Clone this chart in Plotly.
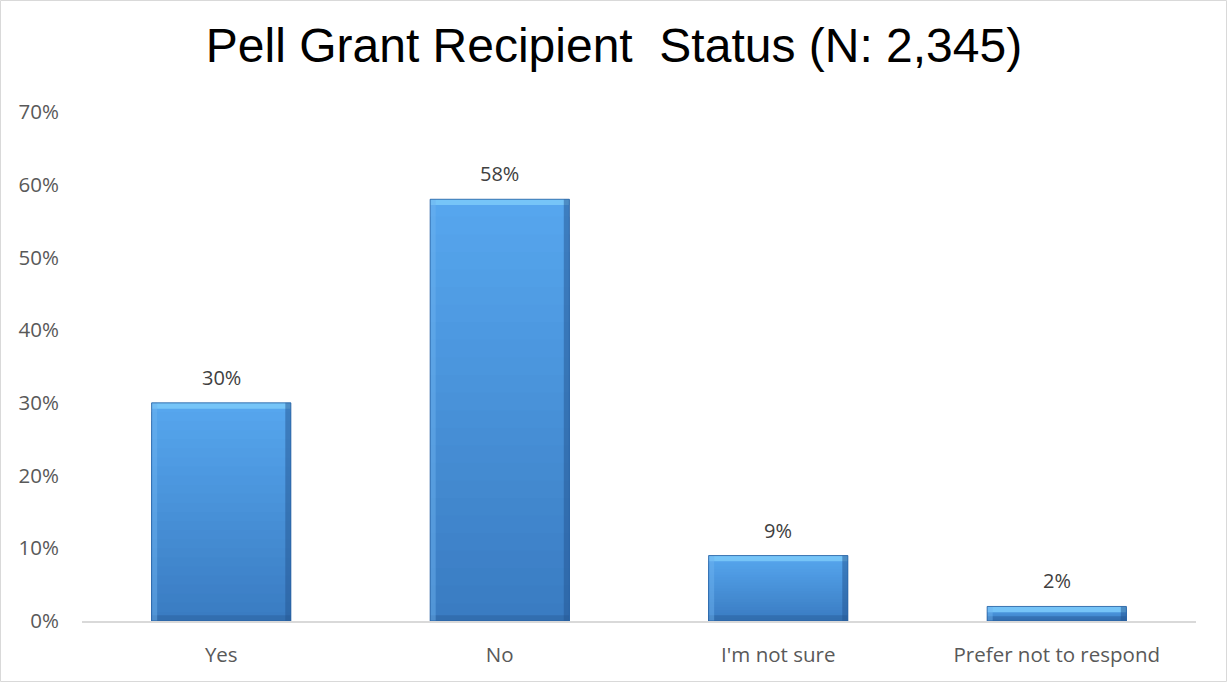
import plotly.graph_objects as go

# Survey responses
categories = ["Yes", "No", "I'm not sure", "Prefer not to respond"]
shares = [0.30, 0.58, 0.09, 0.02]
labels = ["30%", "58%", "9%", "2%"]
y_ticks = [0, 0.1, 0.2, 0.3, 0.4, 0.5, 0.6, 0.7]
y_tick_text = ["0%", "10%", "20%", "30%", "40%", "50%", "60%", "70%"]

W, H = 1228, 683
ML, MR, MT, MB = 82, 32, 112, 62
BAR_W = 0.5

fig = go.Figure()

# Vertical gradient: stacked overlay slices, lighter at the top, darker near the base
top_rgb = (86, 166, 238)
bot_rgb = (58, 124, 194)
N = 24
for k in range(N):
    f = (N - k) / N
    t = k / (N - 1)
    c = tuple(round(top_rgb[i] + (bot_rgb[i] - top_rgb[i]) * t) for i in range(3))
    fig.add_trace(go.Bar(
        x=categories, y=[v * f for v in shares], width=BAR_W,
        marker=dict(color="rgb(%d,%d,%d)" % c, line=dict(width=0)),
        hoverinfo="skip", showlegend=False,
    ))

# Bevel edges: light top, darker base, soft left, shaded right
bev_y = 0.008
bev_x = 0.02
fig.add_trace(go.Bar(
    x=categories, y=[bev_y] * len(shares), base=[v - bev_y for v in shares], width=BAR_W,
    marker=dict(color="rgba(120,198,248,0.95)", line=dict(width=0)),
    hoverinfo="skip", showlegend=False,
))
fig.add_trace(go.Bar(
    x=categories, y=[min(bev_y, v / 3) for v in shares], width=BAR_W,
    marker=dict(color="rgba(44,98,160,0.55)", line=dict(width=0)),
    hoverinfo="skip", showlegend=False,
))
fig.add_trace(go.Bar(
    x=categories, y=shares, width=bev_x, offset=-BAR_W / 2,
    marker=dict(color="rgba(110,180,240,0.45)", line=dict(width=0)),
    hoverinfo="skip", showlegend=False,
))
fig.add_trace(go.Bar(
    x=categories, y=shares, width=bev_x, offset=BAR_W / 2 - bev_x,
    marker=dict(color="rgba(36,86,145,0.5)", line=dict(width=0)),
    hoverinfo="skip", showlegend=False,
))

# Outline
fig.add_trace(go.Bar(
    x=categories, y=shares, width=BAR_W,
    marker=dict(color="rgba(0,0,0,0)", line=dict(color="rgba(40,96,160,0.8)", width=1)),
    hoverinfo="skip", showlegend=False,
))

for cat, v, lab in zip(categories, shares, labels):
    fig.add_annotation(
        x=cat, y=v, text=lab, showarrow=False, yanchor="bottom", yshift=10,
        font=dict(family="Open Sans", size=20, color="#404040"),
    )

fig.update_layout(
    width=W, height=H, barmode="overlay",
    margin=dict(l=ML, r=MR, t=MT, b=MB),
    paper_bgcolor="white", plot_bgcolor="white",
    title=dict(
        text="Pell Grant Recipient \u00a0Status (N: 2,345)",
        x=0.5, xanchor="center", y=1 - 45 / H, yanchor="middle",
        font=dict(family="Liberation Sans, Arial", size=48, color="#000000"),
    ),
    xaxis=dict(
        showgrid=False, zeroline=False, showline=True, linecolor="#d9d9d9", linewidth=2,
        ticks="", ticklabelstandoff=14,
        tickfont=dict(family="Open Sans", size=20.5, color="#595959"),
    ),
    yaxis=dict(
        range=[0, 0.7], tickvals=y_ticks, ticktext=y_tick_text,
        showgrid=False, zeroline=False, showline=False, ticks="", ticklabelstandoff=22,
        tickfont=dict(family="Open Sans", size=20.5, color="#595959"),
    ),
)

# Chart border
fig.add_shape(
    type="rect", xref="paper", yref="paper",
    x0=-(ML - 0.5) / (W - ML - MR), x1=1 + (MR - 1.5) / (W - ML - MR),
    y0=-(MB - 1.5) / (H - MT - MB), y1=1 + (MT - 0.5) / (H - MT - MB),
    line=dict(color="#d9d9d9", width=1), fillcolor="rgba(0,0,0,0)", layer="below",
)

fig.write_html("out.html")
